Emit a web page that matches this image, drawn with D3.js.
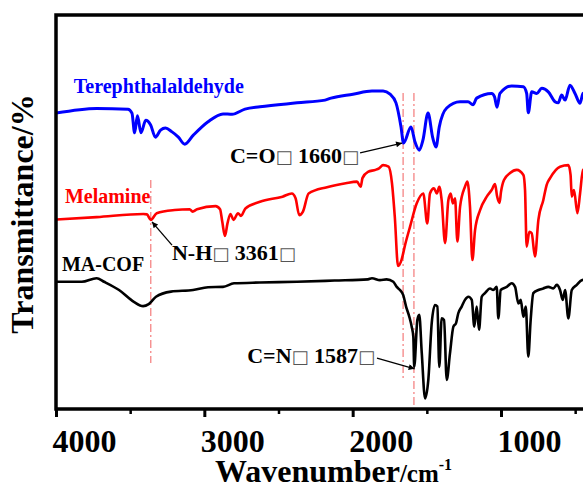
<!DOCTYPE html>
<html>
<head>
<meta charset="utf-8">
<script src="https://cdn.jsdelivr.net/npm/d3@7"></script>
<style>
  body { margin: 0; background: #fff; }
  svg { display: block; font-family: "Liberation Serif", "Times New Roman", serif; font-weight: bold; }
</style>
</head>
<body>
<svg id="chart" width="583" height="482"></svg>
<script>
// *******************
// FTIR data: [wavenumber cm-1, transmittance a.u.]
// *******************
const terephthalaldehyde = [
  [4000, 75.1], [3726, 76.3], [3515, 76.1], [3488, 75.1], [3470, 70.1], [3451, 74.4],
  [3427, 70.1], [3395, 73.3], [3362, 72.1], [3330, 69.0], [3295, 70.8], [3262, 71.3],
  [3220, 70.4], [3175, 69.0], [3132, 67.2], [3074, 69.5], [2975, 72.9], [2874, 74.9],
  [2813, 74.8], [2726, 76.1], [2625, 76.7], [2375, 77.7], [2186, 78.4], [2146, 78.9],
  [1998, 79.9], [1870, 80.7], [1795, 80.7], [1748, 79.9], [1708, 77.7], [1674, 71.6],
  [1657, 67.5], [1607, 71.6], [1580, 67.8], [1551, 65.7], [1526, 68.3], [1492, 75.1],
  [1460, 68.8], [1438, 66.5], [1416, 71.6], [1366, 76.4], [1276, 78.0], [1222, 78.0],
  [1189, 77.2], [1164, 78.9], [1063, 80.1], [1044, 79.3], [1027, 76.6], [1007, 80.1],
  [928, 82.0], [849, 81.8], [827, 80.1], [816, 75.2], [793, 80.5], [759, 80.1],
  [725, 81.4], [681, 80.5], [636, 78.0], [614, 77.7], [591, 79.7], [568, 78.4],
  [535, 82.2], [501, 80.1], [467, 77.6], [447, 80.1], [400, 80.5]
];

const melamine = [
  [4000, 48.1], [3726, 48.7], [3411, 49.5], [3387, 49.4], [3361, 48.0], [3321, 49.7],
  [3200, 50.5], [3099, 50.7], [3079, 50.1], [3049, 50.7], [2924, 51.5], [2894, 50.7],
  [2879, 47.5], [2861, 43.9], [2844, 47.1], [2824, 49.5], [2803, 48.0], [2773, 49.7],
  [2753, 49.0], [2723, 50.9], [2625, 52.6], [2473, 53.9], [2410, 54.7], [2385, 53.5],
  [2360, 49.2], [2335, 50.1], [2297, 54.7], [2173, 56.3], [2047, 57.3], [1971, 57.7],
  [1946, 56.4], [1934, 58.6], [1897, 60.2], [1846, 60.7], [1822, 61.1], [1795, 61.9],
  [1758, 61.5], [1735, 57.3], [1716, 48.8], [1694, 36.3], [1671, 37.8], [1647, 41.6],
  [1613, 46.3], [1568, 52.2], [1524, 54.7], [1497, 47.1], [1479, 54.7], [1452, 56.0],
  [1433, 54.7], [1416, 56.4], [1400, 53.0], [1377, 42.1], [1355, 53.0], [1339, 54.7],
  [1325, 52.2], [1310, 53.5], [1294, 42.5], [1276, 51.3], [1243, 56.4], [1227, 57.7],
  [1209, 51.3], [1193, 37.8], [1175, 45.4], [1141, 50.5], [1096, 53.9], [1063, 55.6],
  [1040, 57.1], [1027, 54.1], [1010, 52.3], [1000, 55.1], [980, 58.1], [939, 59.9],
  [894, 60.7], [849, 59.4], [838, 55.6], [827, 41.2], [809, 45.0], [793, 44.6],
  [771, 38.7], [748, 48.0], [715, 53.0], [692, 56.9], [669, 58.6], [602, 61.5],
  [546, 61.9], [531, 59.4], [523, 53.9], [508, 55.6], [485, 49.7], [467, 54.7],
  [447, 60.7], [400, 61.0]
];

const maCOF = [
  [4000, 32.3], [3826, 32.3], [3726, 33.2], [3676, 32.3], [3575, 30.2], [3475, 27.2],
  [3413, 26.1], [3375, 26.6], [3326, 28.5], [3225, 29.8], [3076, 30.2], [2975, 30.9],
  [2874, 31.0], [2800, 31.9], [2625, 32.1], [2375, 32.3], [2122, 32.6], [1897, 32.9],
  [1870, 33.2], [1816, 32.7], [1771, 32.9], [1726, 32.3], [1703, 31.0], [1681, 30.2],
  [1659, 28.9], [1640, 26.0], [1618, 23.4], [1602, 20.9], [1591, 18.3], [1585, 10.7],
  [1564, 22.6], [1551, 23.9], [1534, 14.1], [1512, 2.7], [1490, 7.4], [1467, 21.8],
  [1445, 26.4], [1429, 26.0], [1416, 10.7], [1400, 23.0], [1384, 22.6], [1366, 7.4],
  [1344, 14.1], [1321, 20.9], [1303, 21.8], [1288, 24.3], [1265, 26.0], [1243, 27.7],
  [1220, 28.5], [1197, 27.7], [1180, 20.9], [1164, 26.0], [1148, 20.1], [1130, 28.5],
  [1108, 29.4], [1074, 30.6], [1052, 30.2], [1029, 31.0], [1018, 23.0], [1002, 30.2],
  [961, 31.0], [928, 31.9], [905, 31.0], [883, 26.8], [867, 27.7], [849, 23.4],
  [833, 26.0], [816, 13.3], [800, 22.6], [782, 29.4], [748, 30.2], [715, 30.6],
  [681, 31.0], [647, 30.6], [624, 31.5], [602, 30.2], [584, 27.7], [568, 30.2],
  [546, 23.0], [523, 30.2], [489, 31.5], [456, 32.7], [400, 33.0]
];

const majorTicks = [4000, 3000, 2000, 1000];
const minorTicks = [3500, 2500, 1500, 500];

// marker lines: [wavenumber, T top, T bottom]
const markerLines = [[3361, 58.1, 11.7], [1660, 80.2, 7.6], [1587, 80.2, 1.0]];

// annotations: label, text anchor point, arrow start, arrow tip
const annotations = [
  { pre: "C=O", num: " 1660", at: [1957, 62.4], anchor: "end", from: [1950, 65.0], to: [1667, 67.5] },
  { pre: "N-H", num: " 3361", at: [3218, 37.8], anchor: "start", from: [3218, 41.6], to: [3353, 47.5] },
  { pre: "C=N", num: " 1587", at: [1849, 11.7], anchor: "end", from: [1836, 12.9], to: [1582, 10.2] }
];

const series = [
  { name: "Terephthalaldehyde", data: terephthalaldehyde, color: "#0000ff", width: 3, label: [3880, 80.2] },
  { name: "Melamine", data: melamine, color: "#ff0000", width: 2.6, label: [3940, 52.3] },
  { name: "MA-COF", data: maCOF, color: "#000000", width: 2.6, label: [3960, 35.0] }
];

const MARGIN = { LEFT: 56, TOP: 15, BOTTOM: 73 };
const WIDTH = 583, HEIGHT = 482;
const PLOT_RIGHT = 590; // frame runs past the cropped edge

const svg = d3.select("#chart");

const x = d3.scaleLinear().domain([4000, 400]).range([MARGIN.LEFT, PLOT_RIGHT]);
const y = d3.scaleLinear().domain([0, 100]).range([HEIGHT - MARGIN.BOTTOM, MARGIN.TOP]);

svg.append("defs").append("clipPath").attr("id", "plot-clip")
  .append("rect")
  .attr("x", x.range()[0]).attr("y", y.range()[1])
  .attr("width", x.range()[1] - x.range()[0])
  .attr("height", y.range()[0] - y.range()[1]);

// dash-dot marker lines
svg.append("g")
  .selectAll("line")
  .data(markerLines)
  .join("line")
  .attr("x1", (d) => x(d[0])).attr("x2", (d) => x(d[0]))
  .attr("y1", (d) => y(d[1])).attr("y2", (d) => y(d[2]))
  .attr("stroke", "#f47a7a")
  .attr("stroke-width", 1.2)
  .attr("stroke-dasharray", "8,3,2,3");

// spectra
const line = d3.line()
  .x((d) => x(d[0]))
  .y((d) => y(d[1]))
  .curve(d3.curveMonotoneX);

svg.append("g")
  .attr("clip-path", "url(#plot-clip)")
  .selectAll("path")
  .data(series)
  .join("path")
  .attr("d", (d) => line(d.data))
  .attr("fill", "none")
  .attr("stroke", (d) => d.color)
  .attr("stroke-width", (d) => d.width)
  .attr("stroke-linejoin", "round");

// series labels
svg.append("g")
  .selectAll("text")
  .data(series)
  .join("text")
  .attr("x", (d) => x(d.label[0]))
  .attr("y", (d) => y(d.label[1]))
  .attr("fill", (d) => d.color)
  .style("font-size", "20px")
  .text((d) => d.name);

// arrowhead
svg.select("defs").append("marker")
  .attr("id", "arrow")
  .attr("viewBox", "0 0 10 10")
  .attr("refX", 10).attr("refY", 5)
  .attr("markerWidth", 9).attr("markerHeight", 6)
  .attr("markerUnits", "userSpaceOnUse")
  .attr("orient", "auto")
  .append("path")
  .attr("d", "M0,0 L10,5 L0,10 z")
  .attr("fill", "#000");

const ann = svg.append("g");
annotations.forEach((a) => {
  ann.append("line")
    .attr("x1", x(a.from[0])).attr("y1", y(a.from[1]))
    .attr("x2", x(a.to[0])).attr("y2", y(a.to[1]))
    .attr("stroke", "#000")
    .attr("stroke-width", 1.3)
    .attr("marker-end", "url(#arrow)");

  const t = ann.append("text")
    .attr("x", x(a.at[0]))
    .attr("y", y(a.at[1]))
    .attr("text-anchor", a.anchor)
    .style("font-size", "22px");
  t.append("tspan").text(a.pre);
  t.append("tspan").style("font-size", "18px").style("font-weight", "normal")
    .style("font-family", "DejaVu Sans").attr("fill", "#555").text("□");
  t.append("tspan").text(a.num);
  t.append("tspan").style("font-size", "18px").style("font-weight", "normal")
    .style("font-family", "DejaVu Sans").attr("fill", "#555").text("□");
});

// frame
svg.append("path")
  .attr("d", `M${x.range()[1]},${y.range()[1]} H${x.range()[0]} V${y.range()[0]} H${x.range()[1]}`)
  .attr("fill", "none")
  .attr("stroke", "#000")
  .attr("stroke-width", 3.5);

// bottom axis, major and minor ticks
const xAxis = svg.append("g")
  .attr("transform", `translate(0,${y.range()[0]})`)
  .call(d3.axisBottom(x).tickValues(majorTicks).tickSize(8).tickSizeOuter(0).tickFormat(d3.format("d")));
xAxis.select(".domain").remove();
xAxis.selectAll(".tick line").attr("stroke-width", 3);
xAxis.selectAll(".tick text")
  .attr("y", 43)
  .attr("dy", null)
  .attr("dx", -4)
  .attr("text-anchor", "start")
  .attr("fill", "#000")
  .style("font-size", "32px")
  .style("font-family", "Liberation Serif")
  .style("font-weight", "bold");

const xMinor = svg.append("g")
  .attr("transform", `translate(0,${y.range()[0]})`)
  .call(d3.axisBottom(x).tickValues(minorTicks).tickSize(5).tickSizeOuter(0).tickFormat(""));
xMinor.select(".domain").remove();
xMinor.selectAll(".tick line").attr("stroke-width", 2.5);

// axis titles
const xTitle = svg.append("text")
  .attr("x", 215)
  .attr("y", 482)
  .style("font-size", "32px");
xTitle.append("tspan").text("Wavenumber");
xTitle.append("tspan").style("font-size", "25px").text("/cm");
xTitle.append("tspan").style("font-size", "16px").attr("dy", -12).text("-1");

svg.append("text")
  .attr("transform", `translate(33,${(y.range()[0] + y.range()[1]) / 2 + 2}) rotate(-90)`)
  .attr("text-anchor", "middle")
  .style("font-size", "32px")
  .text("Transmittance/%");
</script>
</body>
</html>
